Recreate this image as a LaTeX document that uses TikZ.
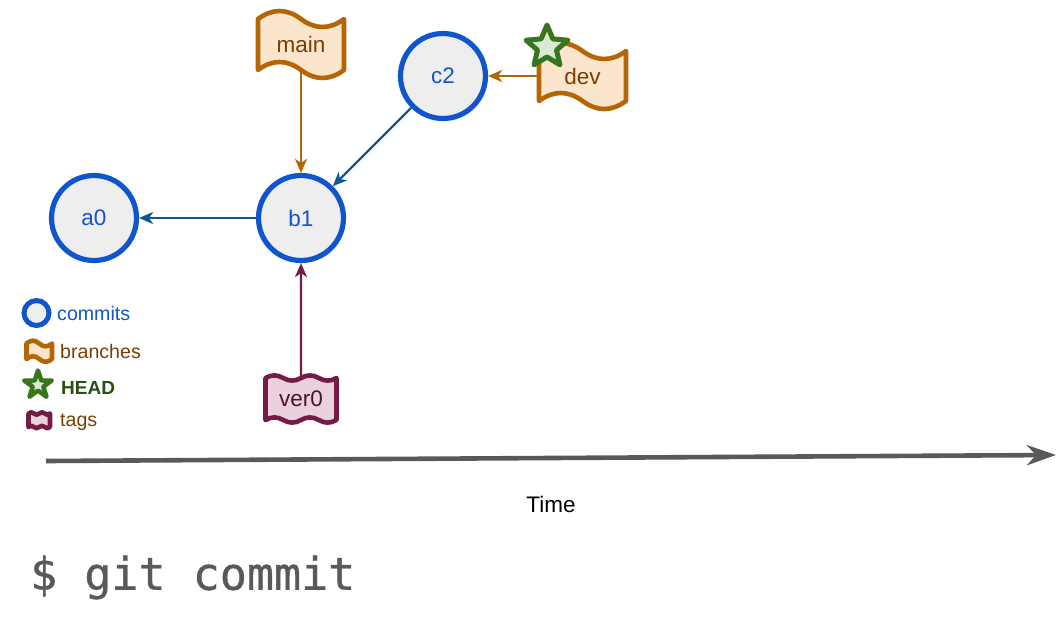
\documentclass[tikz,border=0pt]{standalone}
\usepackage{fontspec}
\setmainfont{Liberation Sans}
\newfontfamily\codefont[FakeBold=0.8]{DejaVu Sans Mono}
\usetikzlibrary{arrows.meta,shapes.geometric}
\definecolor{cblue}{HTML}{1155CC}
\definecolor{cfill}{HTML}{EEEEEE}
\definecolor{edgeblue}{HTML}{10588F}
\definecolor{orangeline}{HTML}{B46504}
\definecolor{orangefill}{HTML}{FCE5CD}
\definecolor{browntext}{HTML}{783F04}
\definecolor{purpleline}{HTML}{741B47}
\definecolor{purplefill}{HTML}{EAD1DC}
\definecolor{purpletext}{HTML}{4C1130}
\definecolor{greenline}{HTML}{38761D}
\definecolor{greenfill}{HTML}{D9EAD3}
\definecolor{greentext}{HTML}{274E13}
\definecolor{axisgray}{HTML}{595959}
\newcommand{\fsz}[1]{\fontsize{#1}{#1}\selectfont}
\tikzset{
  commit/.style={circle,draw=cblue,fill=cfill,line width=5.2pt,minimum size=85pt,inner sep=0pt,outer sep=2.6pt,text=cblue,font=\fsz{22.5}},
  branchshape/.style={draw=orangeline,fill=orangefill,line width=4.6pt,line join=round},
  tagshape/.style={draw=purpleline,fill=purplefill,line width=4.6pt,line join=round},
  headstar/.style={star,star points=5,star point ratio=2.2,draw=greenline,fill=greenfill,line width=5pt,line join=round,inner sep=0pt,outer sep=0pt},
  labelbox/.style={rectangle,inner sep=0pt,outer sep=0pt},
  legendtext/.style={anchor=west,inner sep=0pt,font=\fsz{19.6}},
  link/.style={line width=2.3pt,-{Stealth[length=14pt,width=12pt,inset=4pt]}},
}
% #1 name, #2 left x, #3 top y, #4 width, #5 height, #6 amplitude, #7 text, #8 text colour, #9 font size
\newcommand{\flagnode}[9]{%
  \pgfmathsetmacro\fa{#2+#4/6}\pgfmathsetmacro\fb{#2+#4/3}\pgfmathsetmacro\fc{#2+#4/2}%
  \pgfmathsetmacro\fd{#2+2*#4/3}\pgfmathsetmacro\fe{#2+5*#4/6}\pgfmathsetmacro\ff{#2+#4}%
  \pgfmathsetmacro\ua{#3-4*#6/3}\pgfmathsetmacro\ub{#3+4*#6/3}%
  \pgfmathsetmacro\ya{#3+#5}\pgfmathsetmacro\va{\ya-4*#6/3}\pgfmathsetmacro\vb{\ya+4*#6/3}%
  \draw[branchshape] (#2,#3) .. controls (\fa,\ua) and (\fb,\ua) .. (\fc,#3)
     .. controls (\fd,\ub) and (\fe,\ub) .. (\ff,#3) -- (\ff,\ya)
     .. controls (\fe,\vb) and (\fd,\vb) .. (\fc,\ya)
     .. controls (\fb,\va) and (\fa,\va) .. (#2,\ya) -- cycle;
  \node[labelbox,minimum width=#4 pt,minimum height=#5 pt,text=#8,font=\fsz{#9}] (#1) at (\fc,{#3+#5/2}) {#7};%
}
\newcommand{\tagnode}[9]{%
  \pgfmathsetmacro\fa{#4/12}\pgfmathsetmacro\ca{4*#6/3}%
  \pgfmathsetmacro\xa{\fa}\pgfmathsetmacro\xb{2*\fa}\pgfmathsetmacro\xc{3*\fa}%
  \pgfmathsetmacro\xd{4*\fa}\pgfmathsetmacro\xe{5*\fa}\pgfmathsetmacro\xf{6*\fa}%
  \pgfmathsetmacro\xg{7*\fa}\pgfmathsetmacro\xh{8*\fa}\pgfmathsetmacro\xi{9*\fa}%
  \pgfmathsetmacro\xj{10*\fa}\pgfmathsetmacro\xk{11*\fa}\pgfmathsetmacro\xl{12*\fa}%
  \pgfmathsetmacro\ya{#5-\ca}\pgfmathsetmacro\yb{#5+\ca}\pgfmathsetmacro\na{-\ca}%
  \begin{scope}[shift={(#2,#3)}]
  \draw[tagshape] (0,0)
     .. controls (\xa,\na) and (\xb,\na) .. (\xc,0)
     .. controls (\xd,\ca) and (\xe,\ca) .. (\xf,0)
     .. controls (\xg,\na) and (\xh,\na) .. (\xi,0)
     .. controls (\xj,\ca) and (\xk,\ca) .. (\xl,0)
     -- (\xl,#5)
     .. controls (\xk,\yb) and (\xj,\yb) .. (\xi,#5)
     .. controls (\xh,\ya) and (\xg,\ya) .. (\xf,#5)
     .. controls (\xe,\yb) and (\xd,\yb) .. (\xc,#5)
     .. controls (\xb,\ya) and (\xa,\ya) .. (0,#5)
     -- cycle;
  \node[labelbox,minimum width=#4 pt,minimum height=#5 pt,text=#8,font=\fsz{#9}] (#1) at (\xf,{#5/2}) {#7};%
  \end{scope}%
}
\begin{document}
\begin{tikzpicture}[x=1pt,y=-1pt]
\useasboundingbox (0,0) rectangle (1063,619);
% commits
\node[commit] (a0) at (94,218) {a0};
\node[commit] (b1) at (301,218) {b1};
\node[commit] (c2) at (443,76) {c2};
% branches and tags
\flagnode{main}{258}{19}{86}{51}{8}{main}{browntext}{22.5}
\flagnode{dev}{539}{51}{87}{50}{8}{dev}{browntext}{22.5}
\tagnode{ver0}{265.5}{378}{71}{42}{2.6}{ver0}{purpletext}{22.5}
\node[headstar,minimum size=44pt] (head) at (547,47) {};
% connectors
\draw[link,draw=orangeline,fill=orangeline] (main.south) -- (b1);
\draw[link,draw=orangeline,fill=orangeline] (dev.west) -- (c2.east);
\draw[link,draw=edgeblue,fill=edgeblue] (c2) -- (b1);
\draw[link,draw=edgeblue,fill=edgeblue] (b1) -- (a0);
\draw[link,draw=purpleline,fill=purpleline] (ver0.north) -- (b1);
% legend
\node[commit,line width=5pt,minimum size=25pt,outer sep=2.5pt] (legcommit) at (36.5,313) {};
\node[legendtext,text=cblue] (legcommittext) at (57,313.5) {commits};
\flagnode{legbranch}{26.5}{343.5}{25.5}{15.5}{2.8}{}{browntext}{10}
\node[legendtext,text=browntext] (legbranchtext) at (60,351.5) {branches};
\node[headstar,minimum size=29pt,line width=4.5pt,star point ratio=2.6] (leghead) at (38,385) {};
\node[legendtext,text=greentext,font=\fsz{19}\bfseries] (legheadtext) at (61,388) {HEAD};
\tagnode{legtag}{28.5}{413.5}{21.5}{13.5}{1.2}{}{purpletext}{10}
\node[legendtext,text=browntext] (legtagtext) at (60,422) {tags};
% time axis
\coordinate (timestart) at (46,461);
\coordinate (timeend) at (1056,455);
\draw[line width=4.6pt,draw=axisgray,fill=axisgray,-{Stealth[length=29pt,width=20pt,inset=9pt]}] (timestart) -- (timeend);
\node[font=\fsz{22.5},inner sep=0pt] (timelabel) at (551,504) {Time};
\node[anchor=west,inner sep=0pt,text=axisgray,font=\codefont\fsz{45}] (cmd) at (30,577.5) {\$ git commit};
\end{tikzpicture}
\end{document}
